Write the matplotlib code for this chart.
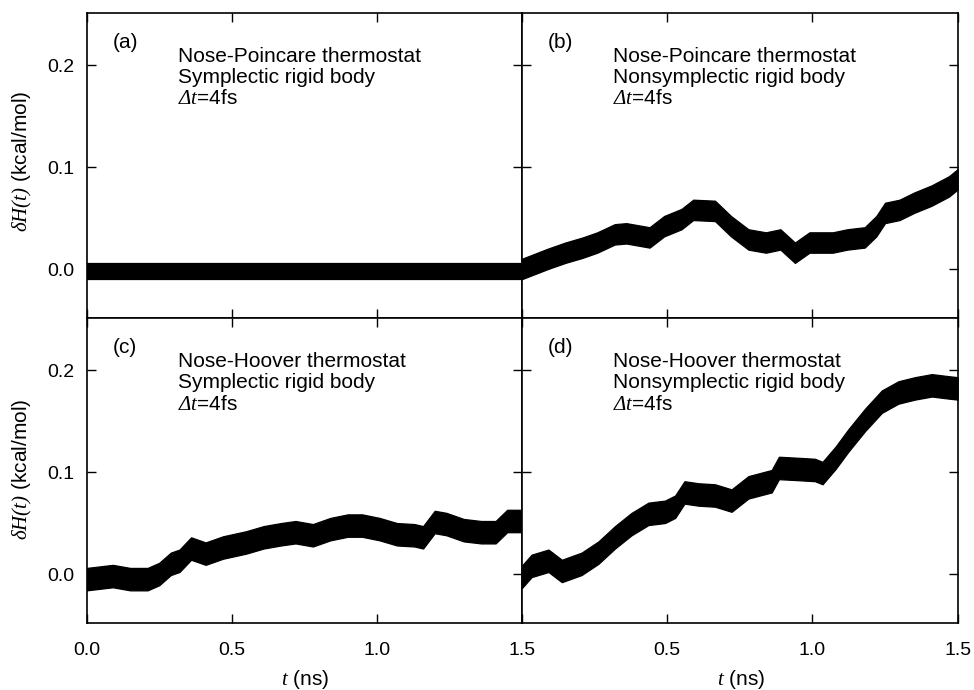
import matplotlib
matplotlib.use("Agg")
import matplotlib.pyplot as plt
import numpy as np

plt.rcParams['font.family'] = ['Liberation Sans', 'DejaVu Sans']
plt.rcParams['mathtext.fontset'] = 'custom'
plt.rcParams['mathtext.rm'] = 'Liberation Serif:italic'
plt.rcParams['mathtext.it'] = 'Liberation Serif:italic'
plt.rcParams['mathtext.fallback'] = 'stix'

# ---- data ----
# (a) Nose-Poincare, symplectic
t_a = [0.0, 0.1, 0.2, 0.3, 0.4, 0.5, 0.6, 0.7, 0.8, 0.9, 1.0, 1.1, 1.2, 1.3, 1.4, 1.5]
c_a = [-0.002, -0.002, -0.002, -0.002, -0.002, -0.002, -0.002, -0.002,
       -0.002, -0.002, -0.002, -0.002, -0.002, -0.002, -0.002, -0.002]
hw_a = 0.0075

# (b) Nose-Poincare, nonsymplectic
t_b = [0.0, 0.09, 0.15, 0.21, 0.26, 0.32, 0.36, 0.44, 0.49, 0.55, 0.59, 0.665,
       0.72, 0.78, 0.84, 0.89, 0.94, 0.99, 1.07, 1.12, 1.18, 1.22, 1.25, 1.30,
       1.35, 1.41, 1.47, 1.50]
c_b = [0.000, 0.010, 0.016, 0.021, 0.026, 0.034, 0.035, 0.031, 0.042, 0.049, 0.058, 0.057,
       0.042, 0.029, 0.026, 0.029, 0.016, 0.026, 0.026, 0.029, 0.031, 0.042, 0.055, 0.058,
       0.065, 0.072, 0.081, 0.088]
hw_b = 0.010

# (c) Nose-Hoover, symplectic
t_c = [0.0, 0.09, 0.15, 0.21, 0.25, 0.29, 0.32, 0.36, 0.41, 0.47, 0.55, 0.61, 0.67,
       0.72, 0.78, 0.84, 0.90, 0.95, 1.01, 1.07, 1.13, 1.16, 1.20, 1.24, 1.30, 1.36,
       1.41, 1.45, 1.50]
c_c = [-0.005, -0.002, -0.005, -0.005, 0.000, 0.010, 0.013, 0.025, 0.020, 0.026, 0.031,
       0.036, 0.039, 0.041, 0.038, 0.044, 0.0475, 0.0475, 0.044, 0.039, 0.038, 0.036,
       0.051, 0.049, 0.043, 0.041, 0.041, 0.052, 0.052]
hw_c = 0.011

# (d) Nose-Hoover, nonsymplectic
t_d = [0.0, 0.034, 0.092, 0.138, 0.206, 0.264, 0.321, 0.378, 0.436, 0.493, 0.528,
       0.56, 0.608, 0.665, 0.722, 0.78, 0.86, 0.885, 0.95, 1.009, 1.035, 1.08, 1.124,
       1.181, 1.239, 1.296, 1.353, 1.411, 1.468, 1.50]
c_d = [-0.003, 0.008, 0.013, 0.003, 0.010, 0.021, 0.036, 0.049, 0.059, 0.061, 0.066,
       0.080, 0.078, 0.077, 0.072, 0.085, 0.091, 0.104, 0.103, 0.102, 0.099, 0.114, 0.131,
       0.151, 0.169, 0.178, 0.182, 0.185, 0.183, 0.182]
hw_d = 0.011

panel_tags = ['(a)', '(b)', '(c)', '(d)']
line1 = ['Nose-Poincare thermostat', 'Nose-Poincare thermostat',
         'Nose-Hoover thermostat', 'Nose-Hoover thermostat']
line2 = ['Symplectic rigid body', 'Nonsymplectic rigid body',
         'Symplectic rigid body', 'Nonsymplectic rigid body']
line3 = r'$\Delta t$=4fs'

xticks = [0.0, 0.5, 1.0, 1.5]
yticks = [0.0, 0.1, 0.2]
ylabel = r'$\delta H(t)$ (kcal/mol)'
xlabel = r'$t$ (ns)'

series = [(t_a, c_a, hw_a), (t_b, c_b, hw_b), (t_c, c_c, hw_c), (t_d, c_d, hw_d)]

fig = plt.figure(figsize=(9.74, 6.9), dpi=100)
W, H = 974.0, 690.0
x0, xm, x1 = 86.7, 521.7, 957.7
y0, ym, y1 = 13.0, 318.0, 623.0
boxes = [
    (x0, y0, xm, ym), (xm, y0, x1, ym),
    (x0, ym, xm, y1), (xm, ym, x1, y1),
]
for i, (l, t, r, b) in enumerate(boxes):
    ax = fig.add_axes([l / W, 1 - b / H, (r - l) / W, (b - t) / H])
    tt, cc, hw = series[i]
    tt = np.array(tt); cc = np.array(cc)
    ax.fill_between(tt, cc - hw, cc + hw, color='black', lw=0.9, edgecolor='black')
    ax.set_xlim(0, 1.5)
    ax.set_ylim(-0.048, 0.251)
    ax.set_xticks(xticks)
    ax.set_yticks(yticks)
    ax.tick_params(direction='in', top=True, right=True, length=6.5, width=1.0,
                   labelsize=14, color='black')
    ax.tick_params(axis='x', pad=14)
    ax.tick_params(axis='y', pad=9)
    for s in ax.spines.values():
        s.set_linewidth(1.2)
    if i in (0, 2):
        ax.set_yticklabels(['0.0', '0.1', '0.2'])
    else:
        ax.set_yticklabels([])
    if i == 2:
        ax.set_xticklabels(['0.0', '0.5', '1.0', '1.5'])
    elif i == 3:
        ax.set_xticklabels(['', '0.5', '1.0', '1.5'])
    else:
        ax.set_xticklabels([])
    ax.text(0.06, 0.885, panel_tags[i], transform=ax.transAxes, fontsize=15,
            va='baseline', ha='left')
    ax.text(0.21, 0.838, line1[i], transform=ax.transAxes, fontsize=15,
            va='baseline', ha='left')
    ax.text(0.21, 0.769, line2[i], transform=ax.transAxes, fontsize=15,
            va='baseline', ha='left')
    ax.text(0.21, 0.700, line3, transform=ax.transAxes, fontsize=15,
            va='baseline', ha='left')

fig.text(22 / W, 1 - 161 / H, ylabel, rotation=90, va='center', ha='center', fontsize=15)
fig.text(22 / W, 1 - 469 / H, ylabel, rotation=90, va='center', ha='center', fontsize=15)
fig.text(305 / W, 1 - 668 / H, xlabel, va='top', ha='center', fontsize=15)
fig.text(741 / W, 1 - 668 / H, xlabel, va='top', ha='center', fontsize=15)

fig.savefig('out.png', dpi=100)
